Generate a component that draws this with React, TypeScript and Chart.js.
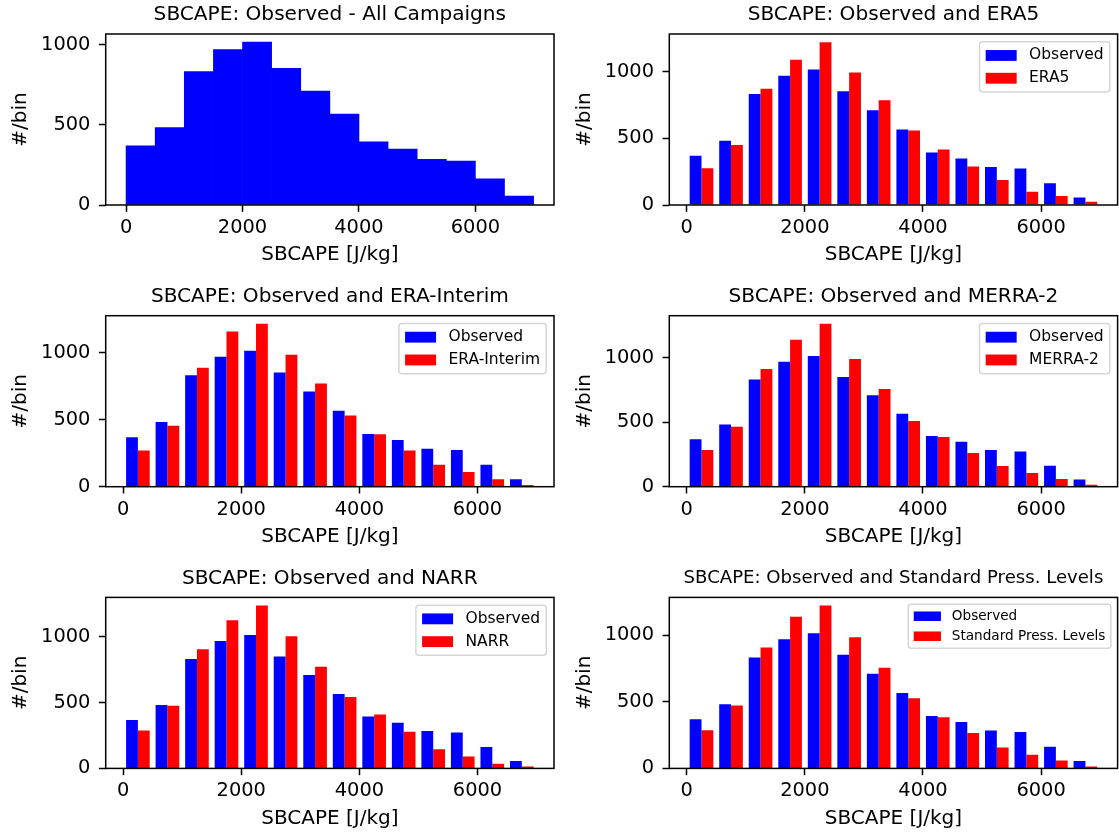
import React, { useEffect, useRef } from 'react';
import { Chart, registerables } from 'chart.js';

Chart.register(...registerables);

// Histogram bins (J/kg) and axis ticks
const BIN_EDGES = [0, 500, 1000, 1500, 2000, 2500, 3000, 3500, 4000, 4500, 5000, 5500, 6000, 6500, 7000];
const X_TICKS = [0, 2000, 4000, 6000];
const Y_TICKS = [0, 500, 1000];

// Counts per bin
const OBSERVED = [369, 482, 832, 969, 1015, 852, 710, 566, 394, 348, 284, 274, 163, 56];
const ERA5 = [275, 450, 871, 1089, 1221, 994, 786, 558, 416, 288, 188, 100, 68, 25];
const ERA_INTERIM = [271, 455, 888, 1157, 1215, 985, 769, 532, 391, 271, 164, 109, 55, 12];
const MERRA2 = [285, 466, 914, 1140, 1264, 992, 759, 510, 386, 262, 161, 106, 60, 16];
const NARR = [289, 477, 906, 1127, 1239, 1005, 774, 543, 411, 279, 145, 91, 36, 15];
const STD_PRESS = [286, 472, 908, 1137, 1222, 984, 755, 527, 384, 266, 156, 103, 60, 15];

const OBS_LABEL = 'Observed';
const X_LABEL = 'SBCAPE [J/kg]';
const Y_LABEL = '#/bin';

type Panel = { title: string; model?: string; values?: number[]; small?: boolean };

const PANELS: Panel[] = [
  { title: 'SBCAPE: Observed - All Campaigns' },
  { title: 'SBCAPE: Observed and ERA5', model: 'ERA5', values: ERA5 },
  { title: 'SBCAPE: Observed and ERA-Interim', model: 'ERA-Interim', values: ERA_INTERIM },
  { title: 'SBCAPE: Observed and MERRA-2', model: 'MERRA-2', values: MERRA2 },
  { title: 'SBCAPE: Observed and NARR', model: 'NARR', values: NARR },
  { title: 'SBCAPE: Observed and Standard Press. Levels', model: 'Standard Press. Levels', values: STD_PRESS, small: true },
];

// Figure geometry (px)
const FONT = "'DejaVu Sans', sans-serif";
const TICK_PX = 19.4;
const LABEL_PX = 20;
const TITLE_PX = 20.1;
const SMALL_TITLE_PX = 18.1;
const LEGEND_PX = 15.5;
const SMALL_LEGEND_PX = 13.6;
const BOX_W = 448.3;
const BOX_H = 171;
const COL_X = [105.7, 669.3];
const ROW_Y = [34, 315.7, 597.4];
const LEFT_SPACE = 101;
const TOP_SPACE = 34;
const X_AXIS_H = 64;
const TICK_LEN = 6.8;
const TITLE_GAP = 19;      // axes top to title centre
const YLABEL_GAP = 84.5;   // axes left to y-label centre
const XLABEL_GAP = 50;     // axes bottom to x-label centre

const BLUE = '#0000ff';
const RED = '#ff0000';

const framePlugin = {
  id: 'axesFrame',
  afterDatasetsDraw(chart: any) {
    const { ctx, chartArea } = chart;
    const { left, top, right, bottom } = chartArea;
    ctx.save();
    ctx.strokeStyle = '#000';
    ctx.lineWidth = 1.5;
    ctx.strokeRect(left, top, right - left, bottom - top);
    ctx.restore();
  },
};

// Legend box in the upper-right corner of the plot area
const legendPlugin = {
  id: 'boxLegend',
  afterDraw(chart: any, _args: any, opts: any) {
    if (!opts || !opts.display) return;
    const fs = opts.fontSize;
    const { ctx, chartArea } = chart;
    const items = chart.data.datasets.map((ds: any) => ({ label: ds.label, color: ds.backgroundColor }));
    ctx.save();
    ctx.font = `${fs}px ${FONT}`;
    const textW = Math.max(...items.map((it: any) => ctx.measureText(it.label).width));
    const rowH = 0.97 * fs;
    const pad = 0.4 * fs;
    const hl = 2 * fs;
    const hh = 0.7 * fs;
    const htp = 0.8 * fs;
    const ls = 0.5 * fs;
    const bap = 0.5 * fs;
    const w = pad * 2 + hl + htp + textW;
    const h = pad * 2 + items.length * rowH + (items.length - 1) * ls;
    const x0 = chartArea.right - bap - w;
    const y0 = chartArea.top + bap;
    ctx.beginPath();
    ctx.roundRect(x0, y0, w, h, 0.2 * fs);
    ctx.fillStyle = 'rgba(255,255,255,0.8)';
    ctx.fill();
    ctx.strokeStyle = 'rgba(204,204,204,0.8)';
    ctx.lineWidth = 1.5;
    ctx.stroke();
    items.forEach((it: any, i: number) => {
      const cy = y0 + pad + i * (rowH + ls) + rowH / 2;
      ctx.fillStyle = it.color;
      ctx.fillRect(x0 + pad, cy - hh / 2, hl, hh);
      ctx.fillStyle = '#000';
      ctx.textBaseline = 'middle';
      ctx.textAlign = 'left';
      ctx.fillText(it.label, x0 + pad + hl + htp, cy);
    });
    ctx.restore();
  },
};

function HistPanel({ index }: { index: number }) {
  const ref = useRef<HTMLCanvasElement>(null);
  const p = PANELS[index];
  const col = index % 2;
  const row = Math.floor(index / 2);
  const boxL = COL_X[col];
  const boxT = ROW_Y[row];
  const cl = Math.floor(boxL) - LEFT_SPACE;
  const ct = Math.floor(boxT) - TOP_SPACE;
  const cw = Math.ceil(boxL + BOX_W + 4) - cl;
  const ch = Math.ceil(boxT + BOX_H + X_AXIS_H + 2) - ct;

  useEffect(() => {
    if (!ref.current) return;
    const grouped = !!p.values;
    const binW = BIN_EDGES[1] - BIN_EDGES[0];
    const centers = BIN_EDGES.slice(0, -1).map((e) => e + binW / 2);
    const lo = BIN_EDGES[0] + (grouped ? 0.1 * binW : 0);
    const hi = BIN_EDGES[BIN_EDGES.length - 1] - (grouped ? 0.1 * binW : 0);
    const xMin = lo - 0.05 * (hi - lo);
    const xMax = hi + 0.05 * (hi - lo);
    const allVals = grouped ? OBSERVED.concat(p.values as number[]) : OBSERVED;
    const yMax = 1.05 * Math.max(...allVals);

    const pct = grouped ? 0.8 : 1;
    const datasets: any[] = [
      {
        label: OBS_LABEL,
        data: centers.map((x, i) => ({ x, y: OBSERVED[i] })),
        backgroundColor: BLUE,
        borderWidth: 0,
        categoryPercentage: pct,
        barPercentage: 1,
      },
    ];
    if (grouped) {
      datasets.push({
        label: p.model,
        data: centers.map((x, i) => ({ x, y: (p.values as number[])[i] })),
        backgroundColor: RED,
        borderWidth: 0,
        categoryPercentage: pct,
        barPercentage: 1,
      });
    }

    const titlePx = p.small ? SMALL_TITLE_PX : TITLE_PX;
    const titleLH = titlePx * 1.2;
    const titleH = boxT - ct;
    const titlePadTop = boxT - TITLE_GAP - ct - titleLH / 2;
    const titlePadBottom = titleH - titlePadTop - titleLH;
    const padRight = cl + cw - (boxL + BOX_W);
    const padBottom = ct + ch - (boxT + BOX_H + X_AXIS_H);
    const labelLH = LABEL_PX * 1.2;
    const yAxisW = boxL - cl;
    const yTitlePadTop = boxL - YLABEL_GAP - cl - labelLH / 2;
    const xTitlePadBottom = X_AXIS_H - XLABEL_GAP - labelLH / 2;
    const tickFont = { family: FONT, size: TICK_PX, lineHeight: 1.2 };
    const labelFont = { family: FONT, size: LABEL_PX, lineHeight: 1.2 };

    const chart = new Chart(ref.current, {
      type: 'bar',
      data: { datasets },
      plugins: [framePlugin, legendPlugin],
      options: {
        responsive: false,
        animation: false,
        devicePixelRatio: 1,
        events: [],
        layout: { padding: { left: 0, top: 0, right: padRight, bottom: padBottom } },
        plugins: {
          legend: { display: false },
          tooltip: { enabled: false },
          title: {
            display: true,
            fullSize: false,
            text: p.title,
            color: '#000',
            font: { family: FONT, size: titlePx, weight: 'normal', lineHeight: 1.2 },
            padding: { top: titlePadTop, bottom: titlePadBottom },
          },
          boxLegend: { display: grouped, fontSize: p.small ? SMALL_LEGEND_PX : LEGEND_PX },
        } as any,
        scales: {
          x: {
            type: 'linear',
            min: xMin,
            max: xMax,
            offset: false,
            afterBuildTicks: (s: any) => {
              s.ticks = X_TICKS.map((value) => ({ value }));
            },
            afterFit: (s: any) => {
              s.height = X_AXIS_H;
            },
            ticks: {
              color: '#000',
              font: tickFont,
              padding: 4.5,
              maxRotation: 0,
              autoSkip: false,
              callback: (v: any) => String(v),
            },
            grid: {
              display: true,
              offset: false,
              drawOnChartArea: false,
              drawTicks: true,
              tickLength: TICK_LEN,
              tickWidth: 1.5,
              tickColor: '#000',
            },
            border: { display: false },
            title: {
              display: true,
              text: X_LABEL,
              color: '#000',
              font: labelFont,
              padding: { top: 0, bottom: xTitlePadBottom },
            },
          } as any,
          y: {
            type: 'linear',
            min: 0,
            max: yMax,
            afterBuildTicks: (s: any) => {
              s.ticks = Y_TICKS.map((value) => ({ value }));
            },
            afterFit: (s: any) => {
              s.width = yAxisW;
            },
            ticks: {
              color: '#000',
              font: tickFont,
              padding: 8.5,
              callback: (v: any) => String(v),
            },
            grid: {
              display: true,
              drawOnChartArea: false,
              drawTicks: true,
              tickLength: TICK_LEN,
              tickWidth: 1.5,
              tickColor: '#000',
            },
            border: { display: false },
            title: {
              display: true,
              text: Y_LABEL,
              color: '#000',
              font: labelFont,
              padding: { top: yTitlePadTop, bottom: 0 },
            },
          } as any,
        },
      },
    });
    return () => chart.destroy();
  }, []);

  return (
    <canvas
      ref={ref}
      width={cw}
      height={ch}
      style={{ position: 'absolute', left: cl, top: ct, width: cw, height: ch }}
    />
  );
}

export default function App() {
  return (
    <div
      style={{
        position: 'absolute',
        left: 0,
        top: 0,
        width: 1119,
        height: 836,
        overflow: 'hidden',
        background: '#fff',
      }}
    >
      {PANELS.map((_, i) => (
        <HistPanel key={i} index={i} />
      ))}
    </div>
  );
}
